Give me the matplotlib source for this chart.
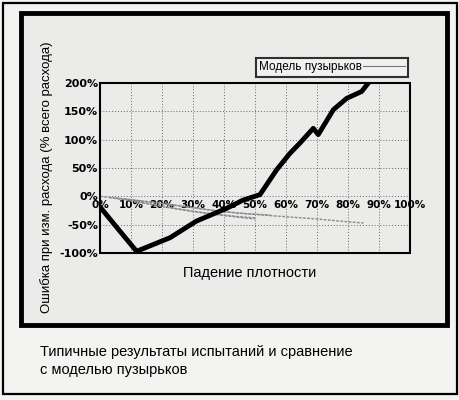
import matplotlib
matplotlib.use("Agg")
import matplotlib.pyplot as plt
from matplotlib.patches import Rectangle

# ---- data (percent) ----
model_x = [0.2, 6.5, 11.8, 22.6, 31.0, 40.9, 46.0, 51.6, 57.0, 61.3, 64.5, 68.8, 70.4, 75.3, 79.6, 84.4, 87.0]
model_y = [-20, -62, -97, -73, -44, -21, -7, 3, 47, 76, 94, 120, 109, 153, 173, 185, 203]

test1_x = [0, 10, 20, 30, 40, 50, 60, 70, 80, 85]
test1_y = [0, -6, -13, -20, -27, -32, -36, -40, -45, -47]
test2_x = [3, 10, 20, 30, 40, 50]
test2_y = [-2, -8, -18, -27, -34, -40]
test3_x = [8, 15, 25, 35, 45, 50]
test3_y = [-5, -12, -22, -30, -36, -38]
test4_x = [5, 15, 25, 35, 45, 55]
test4_y = [-3, -9, -16, -24, -30, -33]

x_ticks = [0, 10, 20, 30, 40, 50, 60, 70, 80, 90, 100]
y_ticks = [-100, -50, 0, 50, 100, 150, 200]

legend_label = "Модель пузырьков"
x_label = "Падение плотности"
y_label = "Ошибка при изм. расхода (% всего расхода)"
caption = "Типичные результаты испытаний и сравнение\nс моделью пузырьков"

narrow = ["Liberation Sans Narrow", "Liberation Sans", "DejaVu Sans"]

fig = plt.figure(figsize=(4.6, 4.0), dpi=100, facecolor="#f3f3f1")

# outer thin frame
fig.patches.append(Rectangle((3/460, 1-394/400), 454/460, 391/400, transform=fig.transFigure,
                             fill=False, edgecolor="black", lw=1.6, zorder=-10))
# inner thick chart frame
fig.patches.append(Rectangle((21/460, 1-325/400), 426/460, 312/400, transform=fig.transFigure,
                             facecolor="#ebebea", edgecolor="black", lw=3.5, zorder=-10))

ax = fig.add_axes([100/460, 1-253/400, 310/460, 170/400])
ax.set_facecolor("#ebebea")
ax.set_xlim(0, 100)
ax.set_ylim(-100, 200)

ax.spines["bottom"].set_position(("data", 0))
ax.spines["bottom"].set_visible(False)
for s in ["top", "left", "right"]:
    ax.spines[s].set_visible(False)

for xs, ys in [(test1_x, test1_y), (test2_x, test2_y), (test3_x, test3_y), (test4_x, test4_y)]:
    ax.plot(xs, ys, color="#8a8a8a", lw=1.0, ls=(0, (2, 1)), zorder=2)

ax.plot(model_x, model_y, color="black", lw=3.5, zorder=3, solid_joinstyle="round")
legend_handle, = ax.plot([], [], color="#777777", lw=0.8)

ax.set_xticks(x_ticks)
ax.set_yticks(y_ticks)
ax.set_xticklabels([f"{v}%" for v in x_ticks], fontweight="bold", fontsize=7.5)
ax.set_yticklabels([f"{v}%" for v in y_ticks], fontweight="bold", fontsize=8)
ax.grid(True, color="#666666", ls=(0, (1, 2)), lw=0.7)
ax.set_axisbelow(True)
ax.tick_params(length=0, pad=1.5)
ax.tick_params(axis="x", pad=3)

ax.add_patch(Rectangle((0, 0), 1, 1, transform=ax.transAxes, fill=False,
                       edgecolor="black", lw=1.5, clip_on=False, zorder=4))

fig.text(250/460, 1-273/400, x_label, ha="center", va="center", fontsize=10.5, family=narrow)
fig.text(47/460, 1-177/400, y_label, ha="center", va="center", rotation=90, fontsize=9.5, family=narrow)

leg = fig.legend([legend_handle], [legend_label], loc="upper right",
                 bbox_to_anchor=(414/460, 1-52/400), markerfirst=False, handlelength=3.5,
                 handletextpad=0.1, borderpad=0.3, frameon=True, fancybox=False,
                 prop={"family": narrow, "size": 8.5})
leg.get_frame().set_edgecolor("black")
leg.get_frame().set_linewidth(1.5)
leg.get_frame().set_facecolor("#f3f3f1")

fig.text(40/460, 1-361/400, caption, ha="left", va="center", fontsize=10.5, family=narrow, linespacing=1.3)

fig.savefig("out.png", dpi=100, facecolor=fig.get_facecolor())
